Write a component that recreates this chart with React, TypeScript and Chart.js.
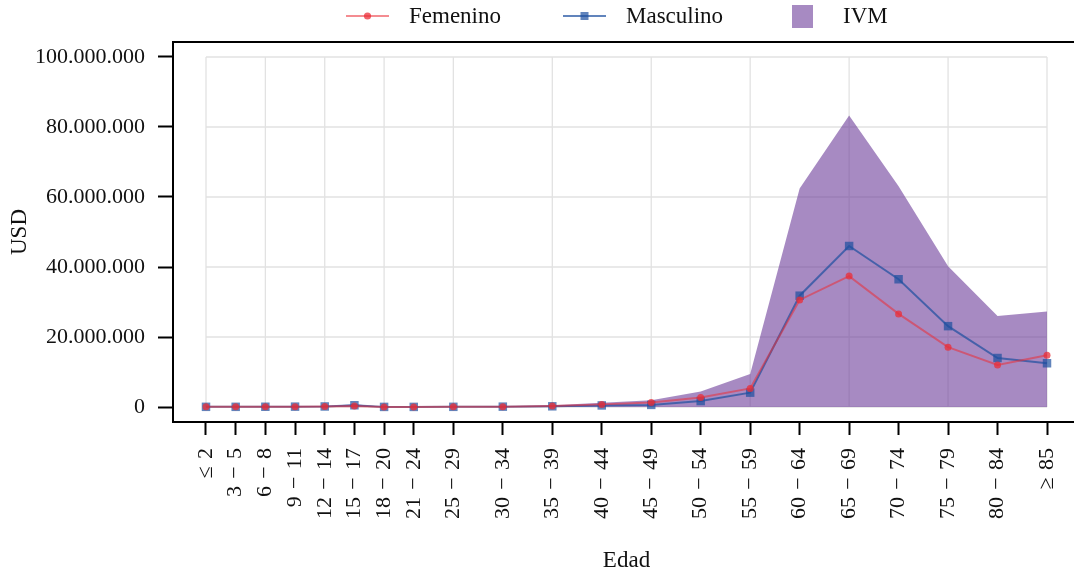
import React, { useEffect, useRef } from 'react';
import { Chart, registerables } from 'chart.js';

Chart.register(...registerables);

// ---- data ----
const AGE_START = [0, 3, 6, 9, 12, 15, 18, 21, 25, 30, 35, 40, 45, 50, 55, 60, 65, 70, 75, 80, 85];
const AGE_LABELS = [
  '≤\u20042', '3\u2004−\u20045', '6\u2004−\u20048', '9\u2004−\u200411', '12\u2004−\u200414',
  '15\u2004−\u200417', '18\u2004−\u200420', '21\u2004−\u200424', '25\u2004−\u200429',
  '30\u2004−\u200434', '35\u2004−\u200439', '40\u2004−\u200444', '45\u2004−\u200449',
  '50\u2004−\u200454', '55\u2004−\u200459', '60\u2004−\u200464', '65\u2004−\u200469',
  '70\u2004−\u200474', '75\u2004−\u200479', '80\u2004−\u200484', '≥\u200485',
];
const FEMENINO = [
  50000, 50000, 70000, 100000, 150000, 300000, 20000, 30000, 50000, 100000, 300000,
  750000, 1300000, 2700000, 5300000, 30600000, 37400000, 26600000, 17100000, 12000000, 14800000,
];
const MASCULINO = [
  50000, 50000, 70000, 100000, 150000, 500000, 30000, 30000, 50000, 100000, 200000,
  450000, 600000, 1700000, 4100000, 31800000, 46000000, 36500000, 23100000, 14000000, 12500000,
];
const IVM = [
  100000, 100000, 150000, 200000, 300000, 800000, 50000, 60000, 100000, 200000, 500000,
  1200000, 1900000, 4400000, 9400000, 62400000, 83300000, 63100000, 40200000, 26000000, 27300000,
];
const Y_TICKS = [0, 20000000, 40000000, 60000000, 80000000, 100000000];
const SERIES_NAMES = ['Femenino', 'Masculino', 'IVM'];
const X_TITLE = 'Edad';
const Y_TITLE = 'USD';

// ---- style ----
const FONT = 'Liberation Serif';
const RED_LINE = 'rgba(235, 45, 55, 0.55)';
const RED_MARK = 'rgba(235, 45, 55, 0.75)';
const BLUE_LINE = 'rgba(30, 80, 160, 0.7)';
const BLUE_MARK = 'rgba(30, 80, 160, 0.7)';
const PURPLE = 'rgba(108, 60, 153, 0.6)';
const GRID = '#e2e2e2';
const INK = '#111';

const fmt = (v: number) => String(Math.round(v)).replace(/\B(?=(\d{3})+(?!\d))/g, '.');

const gridPlugin = {
  id: 'innerGrid',
  beforeDatasetsDraw(chart: any) {
    const { ctx, scales } = chart;
    const xs = scales.x;
    const ys = scales.y;
    const x0 = xs.getPixelForValue(AGE_START[0]);
    const x1 = xs.getPixelForValue(AGE_START[AGE_START.length - 1]);
    const y0 = ys.getPixelForValue(Y_TICKS[0]);
    const y1 = ys.getPixelForValue(Y_TICKS[Y_TICKS.length - 1]);
    ctx.save();
    ctx.strokeStyle = GRID;
    ctx.lineWidth = 1.3;
    AGE_START.forEach((a, i) => {
      if (i % 2 !== 0) return;
      const px = xs.getPixelForValue(a);
      ctx.beginPath();
      ctx.moveTo(px, y0);
      ctx.lineTo(px, y1);
      ctx.stroke();
    });
    Y_TICKS.forEach((t) => {
      const py = ys.getPixelForValue(t);
      ctx.beginPath();
      ctx.moveTo(x0, py);
      ctx.lineTo(x1, py);
      ctx.stroke();
    });
    ctx.restore();
  },
};

const framePlugin = {
  id: 'topSpine',
  afterDraw(chart: any) {
    const { ctx, chartArea } = chart;
    ctx.save();
    ctx.strokeStyle = '#000';
    ctx.lineWidth = 2;
    ctx.beginPath();
    ctx.moveTo(chartArea.left - 1, chartArea.top);
    ctx.lineTo(chartArea.right, chartArea.top);
    ctx.stroke();
    ctx.restore();
  },
};

const legendPlugin = {
  id: 'mplLegend',
  afterDraw(chart: any) {
    const { ctx } = chart;
    const ds = chart.data.datasets;
    const yc = 16;
    ctx.save();
    ctx.font = `23px "${FONT}"`;
    ctx.fillStyle = INK;
    ctx.textBaseline = 'alphabetic';
    ctx.textAlign = 'left';

    // Femenino
    ctx.strokeStyle = ds[0].borderColor;
    ctx.lineWidth = 2;
    ctx.beginPath();
    ctx.moveTo(346, yc);
    ctx.lineTo(389, yc);
    ctx.stroke();
    ctx.fillStyle = ds[0].pointBackgroundColor;
    ctx.beginPath();
    ctx.arc(367.5, yc, 3.6, 0, Math.PI * 2);
    ctx.fill();
    ctx.fillStyle = INK;
    ctx.fillText(ds[0].label, 409, 22.5);

    // Masculino
    ctx.strokeStyle = ds[1].borderColor;
    ctx.beginPath();
    ctx.moveTo(563, yc);
    ctx.lineTo(606, yc);
    ctx.stroke();
    ctx.fillStyle = ds[1].pointBackgroundColor;
    ctx.fillRect(584.5 - 4, yc - 4, 8, 8);
    ctx.fillStyle = INK;
    ctx.fillText(ds[1].label, 626, 22.5);

    // IVM
    ctx.fillStyle = ds[2].backgroundColor;
    ctx.fillRect(792, 5, 21, 23);
    ctx.fillStyle = INK;
    ctx.fillText(ds[2].label, 843, 22.5);
    ctx.restore();
  },
};

export default function App() {
  const ref = useRef<HTMLCanvasElement | null>(null);

  useEffect(() => {
    const canvas = ref.current;
    if (!canvas) return;
    const pts = (arr: number[]) => AGE_START.map((x, i) => ({ x, y: arr[i] }));

    const chart = new Chart(canvas, {
      type: 'line',
      data: {
        datasets: [
          {
            label: SERIES_NAMES[0],
            data: pts(FEMENINO),
            borderColor: RED_LINE,
            borderWidth: 2,
            pointStyle: 'circle',
            pointRadius: 3.5,
            pointBorderWidth: 0,
            pointBackgroundColor: RED_MARK,
            pointBorderColor: RED_MARK,
            fill: false,
            tension: 0,
          },
          {
            label: SERIES_NAMES[1],
            data: pts(MASCULINO),
            borderColor: BLUE_LINE,
            borderWidth: 2,
            pointStyle: 'rect',
            pointRadius: 6,
            pointBorderWidth: 0,
            pointBackgroundColor: BLUE_MARK,
            pointBorderColor: BLUE_MARK,
            fill: false,
            tension: 0,
          },
          {
            label: SERIES_NAMES[2],
            data: pts(IVM),
            borderColor: 'rgba(0,0,0,0)',
            borderWidth: 0,
            pointRadius: 0,
            backgroundColor: PURPLE,
            fill: 'origin',
            tension: 0,
          },
        ],
      },
      options: {
        responsive: false,
        animation: false,
        events: [],
        layout: { padding: { left: 0, right: 20, top: 42, bottom: 0 } },
        plugins: {
          legend: { display: false },
          tooltip: { enabled: false },
        },
        scales: {
          x: {
            type: 'linear',
            min: -3.335,
            max: 88.335,
            afterBuildTicks: (s: any) => {
              s.ticks = AGE_START.map((v) => ({ value: v }));
            },
            afterFit: (s: any) => {
              s.height = 153;
            },
            ticks: {
              autoSkip: false,
              minRotation: 90,
              maxRotation: 90,
              padding: 13,
              color: INK,
              font: { family: FONT, size: 22 },
              callback: (_v: any, i: number) => AGE_LABELS[i],
            },
            grid: {
              display: true,
              drawOnChartArea: false,
              drawTicks: true,
              tickLength: 13,
              tickColor: '#000',
              tickWidth: 2,
            },
            border: { display: true, color: '#000', width: 2 },
            title: {
              display: true,
              text: X_TITLE,
              color: INK,
              font: { family: FONT, size: 23 },
              padding: { top: 0, bottom: 0 },
            },
          },
          y: {
            type: 'linear',
            min: -4285714,
            max: 104285714,
            afterBuildTicks: (s: any) => {
              s.ticks = Y_TICKS.map((v) => ({ value: v }));
            },
            afterFit: (s: any) => {
              s.width = 173;
            },
            ticks: {
              padding: 13,
              color: INK,
              font: { family: FONT, size: 22 },
              callback: (v: any) => fmt(Number(v)),
            },
            grid: {
              display: true,
              drawOnChartArea: false,
              drawTicks: true,
              tickLength: 15,
              tickColor: '#000',
              tickWidth: 2,
            },
            border: { display: true, color: '#000', width: 2 },
            title: {
              display: true,
              text: Y_TITLE,
              color: INK,
              font: { family: FONT, size: 23 },
              padding: { top: 6, bottom: 0 },
            },
          },
        },
      },
      plugins: [gridPlugin, framePlugin, legendPlugin],
    } as any);

    return () => chart.destroy();
  }, []);

  return (
    <div
      style={{
        position: 'fixed',
        left: 0,
        top: 0,
        width: 1074,
        height: 575,
        overflow: 'hidden',
        background: '#fff',
      }}
    >
      <canvas ref={ref} width={1100} height={575} style={{ display: 'block' }} />
    </div>
  );
}
